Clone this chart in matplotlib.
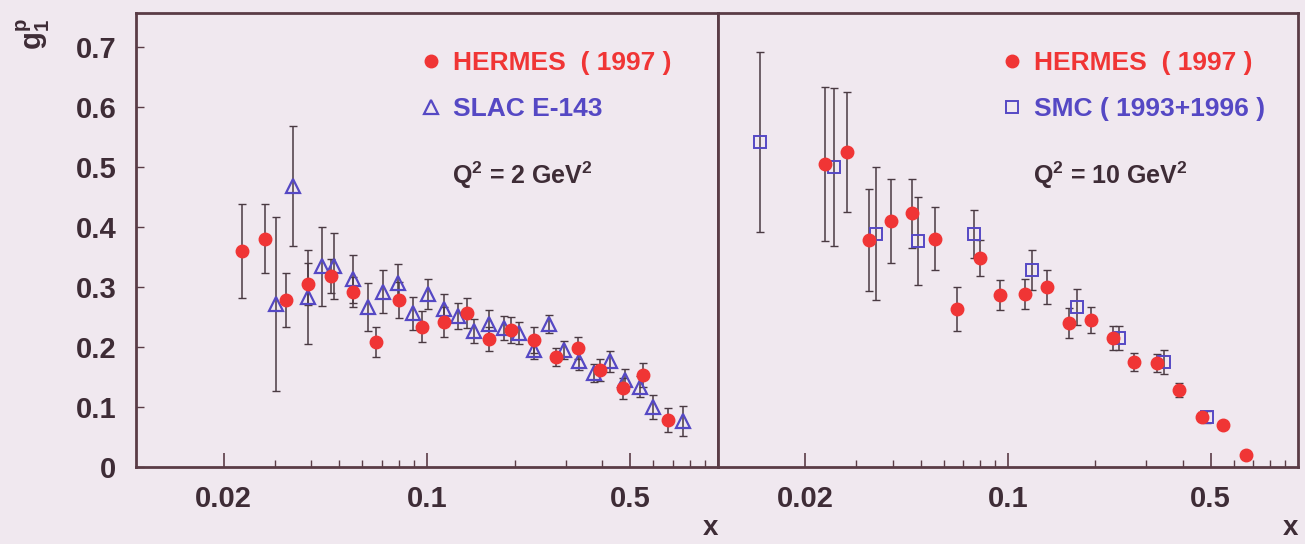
import matplotlib
matplotlib.use("Agg")
import matplotlib.pyplot as plt
from matplotlib.ticker import FixedLocator, NullFormatter, FixedFormatter
import numpy as np

# ---------------- data ----------------
# Left panel, Q^2 = 2 GeV^2
hermes2_x = [0.0231, 0.0277, 0.0327, 0.0391, 0.0468, 0.0556, 0.0670, 0.0800, 0.0959, 0.114,
             0.137, 0.163, 0.194, 0.233, 0.277, 0.330, 0.394, 0.472, 0.553, 0.675]
hermes2_y = [0.360, 0.381, 0.278, 0.305, 0.318, 0.292, 0.208, 0.278, 0.234, 0.242,
             0.257, 0.214, 0.228, 0.212, 0.184, 0.198, 0.162, 0.131, 0.153, 0.078]
hermes2_e = [0.078, 0.058, 0.045, 0.035, 0.028, 0.025, 0.025, 0.030, 0.026, 0.025,
             0.025, 0.020, 0.022, 0.022, 0.015, 0.018, 0.018, 0.018, 0.020, 0.020]

slac_x = [0.0303, 0.0347, 0.0391, 0.0437, 0.0480, 0.0556, 0.0626, 0.0706, 0.0796, 0.0897,
          0.101, 0.114, 0.128, 0.1455, 0.163, 0.184, 0.207, 0.233, 0.262, 0.296,
          0.334, 0.376, 0.424, 0.478, 0.539, 0.599, 0.760]
slac_y = [0.272, 0.468, 0.283, 0.335, 0.335, 0.313, 0.267, 0.292, 0.306, 0.256,
          0.289, 0.264, 0.252, 0.227, 0.239, 0.231, 0.223, 0.195, 0.239, 0.195,
          0.176, 0.156, 0.176, 0.145, 0.134, 0.100, 0.076]
slac_e = [0.145, 0.100, 0.078, 0.066, 0.055, 0.040, 0.040, 0.036, 0.032, 0.028,
          0.025, 0.025, 0.022, 0.020, 0.022, 0.020, 0.018, 0.015, 0.015, 0.015,
          0.015, 0.015, 0.018, 0.018, 0.018, 0.020, 0.025]

# Right panel, Q^2 = 10 GeV^2
hermes10_x = [0.0234, 0.0278, 0.0332, 0.0394, 0.0468, 0.0560, 0.0669, 0.0799, 0.0938, 0.114,
              0.1367, 0.162, 0.193, 0.230, 0.272, 0.327, 0.389, 0.4655, 0.553, 0.660]
hermes10_y = [0.505, 0.526, 0.378, 0.410, 0.423, 0.381, 0.263, 0.348, 0.287, 0.288,
              0.300, 0.2405, 0.245, 0.2145, 0.1755, 0.174, 0.128, 0.084, 0.070, 0.020]
hermes10_e = [0.128, 0.100, 0.085, 0.070, 0.058, 0.053, 0.037, 0.030, 0.025, 0.025,
              0.028, 0.025, 0.022, 0.020, 0.015, 0.015, 0.012, 0.008, 0.005, 0.005]

smc_x = [0.0140, 0.0251, 0.0350, 0.0490, 0.0764, 0.121, 0.1734, 0.2414, 0.345, 0.487]
smc_y = [0.542, 0.500, 0.389, 0.377, 0.388, 0.328, 0.267, 0.2145, 0.1755, 0.084]
smc_e = [0.150, 0.132, 0.111, 0.073, 0.040, 0.033, 0.030, 0.020, 0.020, 0.010]

xtick_vals = [0.02, 0.1, 0.5]
xtick_labels = ["0.02", "0.1", "0.5"]
ytick_vals = [0, 0.1, 0.2, 0.3, 0.4, 0.5, 0.6, 0.7]
ytick_labels = ["0", "0.1", "0.2", "0.3", "0.4", "0.5", "0.6", "0.7"]

# ---------------- style ----------------
BG = "#f0e8ef"
RED = "#f03535"
BLUE = "#5548c4"
DARK = "#3e2c36"
FRAME = "#5a3c46"
ERR = "#4a3a42"

plt.rcParams["font.family"] = ["Liberation Sans", "DejaVu Sans"]
plt.rcParams["font.weight"] = "bold"
plt.rcParams["mathtext.fontset"] = "custom"
plt.rcParams["mathtext.rm"] = "Liberation Sans:bold"
plt.rcParams["mathtext.it"] = "Liberation Sans:bold"
plt.rcParams["mathtext.bf"] = "Liberation Sans:bold"

W, H = 1305, 544
fig = plt.figure(figsize=(W / 100, H / 100), dpi=100, facecolor=BG)

ax_b = 1 - 467 / H
ax_h = 454 / H
ax1 = fig.add_axes([136 / W, ax_b, 582 / W, ax_h])
ax2 = fig.add_axes([718 / W, ax_b, 580 / W, ax_h])

minor_vals = [v * d for d in (0.01, 0.1) for v in range(2, 10)]

for ax in (ax1, ax2):
    ax.set_facecolor(BG)
    ax.set_xscale("log")
    ax.set_xlim(0.01, 1.0)
    ax.set_ylim(0, 0.757)
    for s in ax.spines.values():
        s.set_color(FRAME)
        s.set_linewidth(2.0)
    ax.xaxis.set_major_locator(FixedLocator(xtick_vals))
    ax.xaxis.set_major_formatter(FixedFormatter(xtick_labels))
    ax.xaxis.set_minor_locator(FixedLocator([m for m in minor_vals if m not in xtick_vals]))
    ax.xaxis.set_minor_formatter(NullFormatter())
    ax.tick_params(axis="x", which="major", direction="in", length=10, width=1.2,
                   colors=FRAME, labelcolor=DARK, labelsize=21, pad=13)
    ax.tick_params(axis="x", which="minor", direction="in", length=5, width=1.0, colors=FRAME)
    ax.tick_params(axis="x", top=False, which="both")
    ax.set_xlabel("x", fontsize=20, color=DARK, fontweight="bold", va="center")
    ax.xaxis.set_label_coords(0.987, -(528 - 467) / 454)

ax1.yaxis.set_major_locator(FixedLocator(ytick_vals))
ax1.yaxis.set_major_formatter(FixedFormatter(ytick_labels))
ax1.tick_params(axis="y", direction="in", length=6, width=1.0, colors=FRAME,
                labelcolor=DARK, labelsize=21, pad=14)
ax2.tick_params(axis="y", left=False, labelleft=False)

eb_kw = dict(fmt="none", ecolor=ERR, elinewidth=1.1, capsize=3, capthick=1.0, zorder=2)

# left panel
ax1.errorbar(hermes2_x, hermes2_y, yerr=hermes2_e, **eb_kw)
ax1.errorbar(slac_x, slac_y, yerr=slac_e, **eb_kw)
h1 = ax1.plot(hermes2_x, hermes2_y, "o", ms=9, mfc=RED, mec=RED, ls="none",
              zorder=4, label="HERMES  ( 1997 )")[0]
h2 = ax1.plot(slac_x, slac_y, "^", ms=10, mfc="none", mec=BLUE, mew=1.6, ls="none",
              zorder=3, label="SLAC E-143")[0]

# right panel
ax2.errorbar(hermes10_x, hermes10_y, yerr=hermes10_e, **eb_kw)
ax2.errorbar(smc_x, smc_y, yerr=smc_e, **eb_kw)
h3 = ax2.plot(hermes10_x, hermes10_y, "o", ms=9, mfc=RED, mec=RED, ls="none",
              zorder=4, label="HERMES  ( 1997 )")[0]
h4 = ax2.plot(smc_x, smc_y, "s", ms=9, mfc="none", mec=BLUE, mew=1.4, ls="none",
              zorder=3, label="SMC ( 1993+1996 )")[0]

leg_kw = dict(frameon=False, loc="upper left", fontsize=19, handlelength=0.6,
              handletextpad=0.55, labelspacing=0.85, borderaxespad=0.0,
              labelcolor="markeredgecolor")
ax1.legend(handles=[h1, h2], bbox_to_anchor=(0.475, 0.94), **leg_kw)
ax2.legend(handles=[h3, h4], bbox_to_anchor=(0.475, 0.94), **leg_kw)

ax1.text(0.543, 0.643, r"Q$^2$ = 2 GeV$^2$", transform=ax1.transAxes, fontsize=18,
         color=DARK, va="center", ha="left")
ax2.text(0.543, 0.643, r"Q$^2$ = 10 GeV$^2$", transform=ax2.transAxes, fontsize=18,
         color=DARK, va="center", ha="left")

fig.text(33 / W, 1 - 34 / H, r"$\mathregular{g_1^p}$", rotation=90, fontsize=21,
         color=DARK, ha="center", va="center")

fig.savefig("out.png", dpi=100, facecolor=BG)
